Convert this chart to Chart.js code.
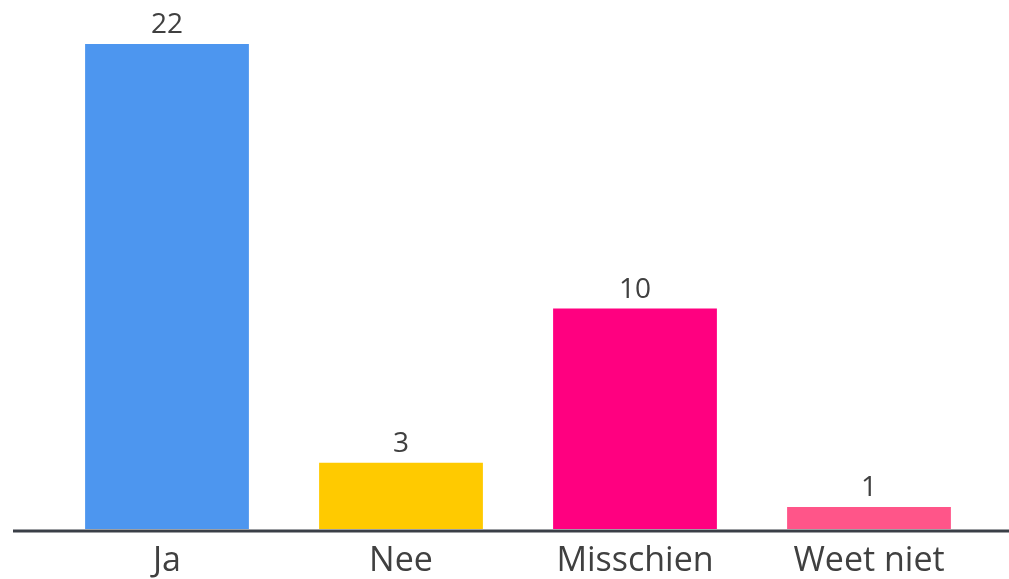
<!DOCTYPE html>
<html>
<head>
<meta charset="utf-8">
<script src="https://cdn.jsdelivr.net/npm/chart.js@4"></script>
<style>
  html, body { margin: 0; padding: 0; background: #fff; }
  #wrap { width: 1009px; height: 579px; }
</style>
</head>
<body>
<div id="wrap"><canvas id="grafico"></canvas></div>
<script>
const categorias = ['Ja', 'Nee', 'Misschien', 'Weet niet'];
const waarden = [22, 3, 10, 1];
const kleuren = ['#4d96ef', '#ffca00', '#ff0080', '#ff5589'];

// as-lijn onder de staven, over de volle breedte
const asLijn = {
  id: 'asLijn',
  afterDatasetsDraw(chart) {
    const ctx = chart.ctx;
    const y = chart.scales.y.getPixelForValue(0) + 2;
    ctx.save();
    ctx.strokeStyle = '#3a3f47';
    ctx.lineWidth = 3;
    ctx.beginPath();
    ctx.moveTo(13, y);
    ctx.lineTo(chart.width, y);
    ctx.stroke();
    ctx.restore();
  }
};

// waarden boven de staven
const waardeLabels = {
  id: 'waardeLabels',
  afterDatasetsDraw(chart) {
    const ctx = chart.ctx;
    const meta = chart.getDatasetMeta(0);
    ctx.save();
    ctx.fillStyle = '#404040';
    ctx.font = '28px "Open Sans"';
    ctx.textAlign = 'center';
    ctx.textBaseline = 'bottom';
    meta.data.forEach((bar, i) => {
      ctx.fillText(waarden[i], bar.x, bar.y - 5);
    });
    ctx.restore();
  }
};

new Chart(document.getElementById('grafico').getContext('2d'), {
  type: 'bar',
  data: {
    labels: categorias,
    datasets: [{
      data: waarden,
      backgroundColor: kleuren,
      borderWidth: 0,
      categoryPercentage: 1,
      barPercentage: 0.7
    }]
  },
  options: {
    responsive: true,
    maintainAspectRatio: false,
    animation: false,
    layout: { padding: { left: 50, right: 23, top: 44, bottom: 0 } },
    scales: {
      y: { display: false, min: 0, max: 22 },
      x: {
        grid: { display: false },
        border: { display: false },
        afterFit(scale) { scale.height = 50; },
        ticks: {
          color: '#404040',
          font: { family: 'Open Sans', size: 34 },
          padding: 4
        }
      }
    },
    plugins: {
      legend: { display: false },
      tooltip: { enabled: false }
    }
  },
  plugins: [asLijn, waardeLabels]
});
</script>
</body>
</html>
